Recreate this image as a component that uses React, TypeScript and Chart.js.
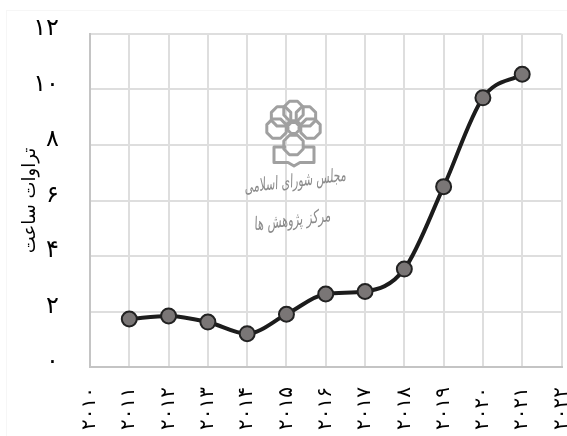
import React, { useEffect, useRef } from "react";
import { Chart, registerables } from "chart.js";

Chart.register(...registerables);

const years = ["۲۰۱۰", "۲۰۱۱", "۲۰۱۲", "۲۰۱۳", "۲۰۱۴", "۲۰۱۵", "۲۰۱۶", "۲۰۱۷", "۲۰۱۸", "۲۰۱۹", "۲۰۲۰", "۲۰۲۱", "۲۰۲۲"];
const hours = [null, 1.73, 1.84, 1.62, 1.2, 1.9, 2.63, 2.72, 3.53, 6.5, 9.7, 10.55, null];
const yTickLabels = ["۰", "۲", "۴", "۶", "۸", "۱۰", "۱۲"];
const yAxisTitle = "تراوات ساعت";
const watermarkLines = ["مجلس شورای اسلامی", "مرکز پژوهش ها"];

const FONT = '"DejaVu Sans", "Noto Sans", sans-serif';

function octagon(c: any, x: number, y: number, r: number) {
  c.beginPath();
  for (let i = 0; i < 8; i++) {
    const a = Math.PI / 8 + (i * Math.PI) / 4;
    const px = x + r * Math.cos(a);
    const py = y + r * Math.sin(a);
    if (i === 0) c.moveTo(px, py);
    else c.lineTo(px, py);
  }
  c.closePath();
  c.stroke();
}

const watermark = {
  id: "watermark",
  beforeDraw(chart: any) {
    const c = chart.ctx;
    c.save();
    c.fillStyle = "#fff";
    c.fillRect(0, 0, 580, 436);
    c.strokeStyle = "#f6f6f6";
    c.lineWidth = 1;
    c.strokeRect(6.5, 10.5, 600, 600);
    c.restore();
  },
  afterDatasetsDraw(chart: any) {
    const c = chart.ctx;
    c.save();
    c.strokeStyle = "#a0a0a0";
    c.fillStyle = "#8a8a8a";
    c.lineWidth = 3;
    c.lineJoin = "round";
    const cx = 293.5;
    const cy = 128;
    [0, 47, -47, 92, -92, 180].forEach((deg) => {
      const a = (deg * Math.PI) / 180;
      octagon(c, cx + 17 * Math.sin(a), cy - 17 * Math.cos(a), 10.5);
    });
    octagon(c, cx, cy, 6);
    c.beginPath();
    c.moveTo(286, 147);
    c.lineTo(274, 147);
    c.lineTo(274, 162.5);
    c.lineTo(288, 162.5);
    c.lineTo(294, 166);
    c.lineTo(300, 162.5);
    c.lineTo(314, 162.5);
    c.lineTo(314, 147);
    c.lineTo(302, 147);
    c.stroke();
    c.textAlign = "center";
    c.textBaseline = "middle";
    c.font = `italic 16px ${FONT}`;
    c.save();
    c.translate(295, 182);
    c.rotate(-0.12);
    c.scale(0.68, 1.15);
    c.fillText(watermarkLines[0], 0, 0);
    c.restore();
    c.save();
    c.translate(292, 221);
    c.rotate(-0.12);
    c.scale(0.72, 1.15);
    c.fillText(watermarkLines[1], 0, 0);
    c.restore();
    c.restore();
  },
};

export default function App() {
  const ref = useRef<HTMLCanvasElement>(null);
  useEffect(() => {
    const chart = new Chart(ref.current!, {
      type: "line",
      data: {
        labels: years,
        datasets: [
          {
            data: hours,
            borderColor: "#1c1c1c",
            borderWidth: 4,
            pointBackgroundColor: "#7a7676",
            pointBorderColor: "#222222",
            pointBorderWidth: 2,
            pointRadius: 7.5,
            cubicInterpolationMode: "monotone",
          },
        ],
      },
      options: {
        animation: false,
        responsive: false,
        layout: { padding: { left: 0, right: 1, top: 34, bottom: 0 } },
        plugins: { legend: { display: false }, tooltip: { enabled: false } },
        scales: {
          x: {
            offset: false,
            afterFit(axis: any) {
              axis.height = 69;
              axis.paddingLeft = 0;
              axis.paddingRight = 0;
            },
            grid: { color: "#dedede", lineWidth: 2, drawTicks: false },
            border: { color: "#c4c4c4", width: 2 },
            ticks: {
              color: "#000",
              font: { family: FONT, size: 20 },
              minRotation: 90,
              maxRotation: 90,
              autoSkip: false,
              padding: 20,
            },
          },
          y: {
            min: 0,
            max: 12,
            afterFit(axis: any) {
              axis.width = 90;
              axis.paddingTop = 0;
              axis.paddingBottom = 0;
            },
            grid: { color: "#dedede", lineWidth: 2, drawTicks: false },
            border: { color: "#c4c4c4", width: 2 },
            title: {
              display: true,
              text: yAxisTitle,
              color: "#000",
              font: { family: FONT, size: 18 },
              padding: { top: 20, bottom: 0 },
            },
            ticks: {
              stepSize: 2,
              color: "#000",
              font: { family: FONT, size: 24 },
              padding: 31,
              labelOffset: -5,
              callback: (_v: any, i: number) => yTickLabels[i],
            },
          },
        },
      },
      plugins: [watermark],
    });
    return () => chart.destroy();
  }, []);
  return (
    <div style={{ position: "fixed", left: 0, top: 0, width: 567, height: 436, background: "#fff", overflow: "hidden" }}>
      <canvas ref={ref} width={571} height={436} style={{ display: "block" }} />
    </div>
  );
}
